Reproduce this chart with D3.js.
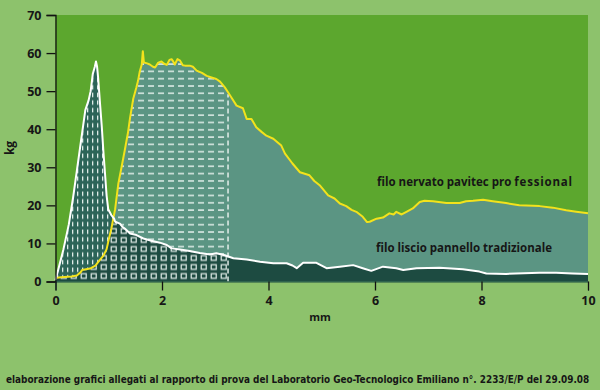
<!DOCTYPE html>
<html>
<head>
<meta charset="utf-8">
<script src="https://cdn.jsdelivr.net/npm/d3@7/dist/d3.min.js"></script>
<style>
  body { margin: 0; background: #8dc26c; }
  text { font-family: "Open Sans", "DejaVu Sans", sans-serif; font-weight: 700; fill: #161616; }
</style>
</head>
<body>
<div id="chart"></div>
<script>
// filo nervato pavitec professional (yellow)
const proMm = [0, 0.1, 0.3, 0.4, 0.47, 0.5, 0.65, 0.75, 0.83, 0.9, 0.96, 1.0, 1.05, 1.12, 1.18, 1.24, 1.3, 1.36, 1.4, 1.46, 1.52, 1.55, 1.58, 1.62, 1.64, 1.66, 1.72, 1.77, 1.83, 1.87, 1.93, 1.99, 2.04, 2.09, 2.14, 2.18, 2.21, 2.24, 2.29, 2.34, 2.39, 2.43, 2.52, 2.58, 2.65, 2.75, 2.84, 2.93, 3.02, 3.09, 3.18, 3.24, 3.3, 3.4, 3.52, 3.59, 3.68, 3.77, 3.87, 3.96, 4.09, 4.24, 4.31, 4.45, 4.59, 4.77, 4.86, 4.96, 5.12, 5.24, 5.34, 5.46, 5.56, 5.65, 5.77, 5.85, 5.9, 6.03, 6.15, 6.27, 6.35, 6.4, 6.5, 6.59, 6.71, 6.84, 6.93, 7.09, 7.34, 7.59, 7.71, 7.84, 8.03, 8.21, 8.46, 8.71, 9.09, 9.34, 9.59, 9.78, 10];
const proKg = [0.9, 1.1, 1.3, 1.6, 2.4, 3.0, 3.4, 4.2, 5.6, 6.8, 8.5, 11, 14, 19, 25.7, 30, 34.4, 39, 43, 48, 51, 52.7, 55, 57, 60.5, 57.5, 57.3, 57, 56.4, 56.2, 57.5, 57.8, 57.2, 56.9, 58.2, 58.4, 57.8, 57, 58.4, 58, 56.8, 56.7, 56.7, 56.4, 55.4, 54.8, 54, 53.6, 53.2, 52.5, 51, 49.7, 48.4, 46.2, 45.5, 42.7, 42.7, 40.5, 39.3, 38.3, 37.5, 35.7, 33.6, 31, 28.7, 27.9, 26.4, 25.3, 22.6, 21.8, 20.5, 19.8, 18.8, 18.3, 17, 15.6, 15.7, 16.5, 16.8, 17.9, 17.6, 18.3, 17.6, 18.3, 19.2, 20.9, 21.2, 21.1, 20.6, 20.6, 21.1, 21.2, 21.5, 21.1, 20.6, 20, 19.8, 19.4, 18.7, 18.3, 17.9];

// filo liscio pannello tradizionale (white)
const tradMm = [0, 0.05, 0.15, 0.25, 0.33, 0.4, 0.46, 0.52, 0.56, 0.62, 0.66, 0.7, 0.74, 0.76, 0.78, 0.8, 0.84, 0.87, 0.9, 0.93, 0.96, 0.99, 1.05, 1.1, 1.12, 1.21, 1.26, 1.3, 1.4, 1.52, 1.65, 1.8, 1.96, 2.09, 2.18, 2.34, 2.52, 2.71, 2.9, 3.02, 3.18, 3.34, 3.59, 3.84, 4.09, 4.34, 4.45, 4.53, 4.65, 4.9, 5.09, 5.34, 5.59, 5.77, 5.93, 6.15, 6.4, 6.53, 6.78, 7.21, 7.65, 7.96, 8.09, 8.46, 9.09, 9.4, 9.71, 10];
const tradKg = [0.4, 3, 8.5, 15, 22, 29, 35, 41, 45, 47.5, 50, 54.5, 56.5, 57.8, 56.5, 53.6, 46, 40.5, 34, 28.3, 22.5, 19, 17.4, 16.5, 15.7, 15.2, 14.3, 13.9, 12.6, 12.2, 11.3, 10.7, 10.2, 9.6, 8.7, 8.4, 8.0, 7.5, 7.1, 7.4, 6.9, 6.1, 5.8, 5.2, 4.8, 4.8, 4.2, 3.5, 4.9, 4.9, 3.5, 3.9, 4.3, 3.5, 2.8, 3.9, 3.5, 3.0, 3.5, 3.6, 3.2, 2.6, 2.1, 2.0, 2.3, 2.3, 2.1, 2.0];

const xTicks = [0, 2, 4, 6, 8, 10];
const yTicks = [0, 10, 20, 30, 40, 50, 60, 70];
const hatchEnd = 3.24;

const w = 600, h = 390;

const x = d3.scaleLinear().domain([0, 10]).range([55.5, 588]);
const y = d3.scaleLinear().domain([0, 70]).range([281.5, 15]);

const pro = proMm.map((d, i) => [d, proKg[i]]);
const trad = tradMm.map((d, i) => [d, tradKg[i]]);

const area = d3.area().x(d => x(d[0])).y0(y(0)).y1(d => y(d[1]));
const line = d3.line().x(d => x(d[0])).y(d => y(d[1]));

const svg = d3.select("#chart").append("svg")
  .attr("width", w).attr("height", h)
  .style("display", "block");

const defs = svg.append("defs");

defs.append("clipPath").attr("id", "proClip").append("path").attr("d", area(pro));
defs.append("clipPath").attr("id", "tradClip").append("path").attr("d", area(trad));
defs.append("clipPath").attr("id", "leftClip").append("rect")
  .attr("x", x(0)).attr("y", y(70))
  .attr("width", x(hatchEnd) - x(0)).attr("height", y(0) - y(70));

// horizontal dashes
const ph = defs.append("pattern").attr("id", "hdash").attr("patternUnits", "userSpaceOnUse")
  .attr("x", x(hatchEnd) - 2).attr("y", 2).attr("width", 10).attr("height", 7.3);
ph.append("rect").attr("x", 2).attr("y", 3).attr("width", 6).attr("height", 1.4).attr("fill", "#e8f2ee");

// vertical dashes
const pv = defs.append("pattern").attr("id", "vdash").attr("patternUnits", "userSpaceOnUse")
  .attr("x", 0).attr("y", 0).attr("width", 5).attr("height", 7.6);
pv.append("rect").attr("x", 2).attr("y", 1.5).attr("width", 1.3).attr("height", 4.5).attr("fill", "#dfece8");

// squares
const ps = defs.append("pattern").attr("id", "squares").attr("patternUnits", "userSpaceOnUse")
  .attr("x", x(hatchEnd) + 1).attr("y", y(0) - 1).attr("width", 10).attr("height", 9);
ps.append("rect").attr("x", 2.2).attr("y", 2.2).attr("width", 5).attr("height", 4.6)
  .attr("fill", "none").attr("stroke", "#e6f0ec").attr("stroke-width", 1.2);

// plot background
svg.append("rect")
  .attr("x", x(0)).attr("y", y(70))
  .attr("width", x(10) - x(0)).attr("height", y(0) - y(70))
  .attr("fill", "#5ca72e");

// professional area
svg.append("path").attr("d", area(pro)).attr("fill", "#5b9583");
svg.append("g").attr("clip-path", "url(#proClip)")
  .append("g").attr("clip-path", "url(#leftClip)")
  .append("rect").attr("x", x(0)).attr("y", y(70))
  .attr("width", x(10) - x(0)).attr("height", y(0) - y(70))
  .attr("fill", "url(#hdash)");

// traditional area
svg.append("path").attr("d", area(trad)).attr("fill", "#2c6458");
svg.append("g").attr("clip-path", "url(#tradClip)")
  .append("g").attr("clip-path", "url(#leftClip)")
  .append("rect").attr("x", x(0)).attr("y", y(70))
  .attr("width", x(10) - x(0)).attr("height", y(0) - y(70))
  .attr("fill", "url(#vdash)");

// overlap of both
const both = svg.append("g").attr("clip-path", "url(#tradClip)")
  .append("g").attr("clip-path", "url(#proClip)");
both.append("rect").attr("x", x(0)).attr("y", y(70))
  .attr("width", x(10) - x(0)).attr("height", y(0) - y(70))
  .attr("fill", "#1d4b41");
both.append("g").attr("clip-path", "url(#leftClip)")
  .append("rect").attr("x", x(0)).attr("y", y(70))
  .attr("width", x(10) - x(0)).attr("height", y(0) - y(70))
  .attr("fill", "url(#squares)");

// dashed edge of the hatching
const proAtEnd = proKg[proMm.indexOf(hatchEnd)];
svg.append("line")
  .attr("x1", x(hatchEnd)).attr("x2", x(hatchEnd))
  .attr("y1", y(0)).attr("y2", y(proAtEnd) + 2)
  .attr("stroke", "#eef5f2").attr("stroke-width", 1.4)
  .attr("stroke-dasharray", "5,3");

// curves
svg.append("path").attr("d", line(pro))
  .attr("fill", "none").attr("stroke", "#f3e21c").attr("stroke-width", 2).attr("stroke-linejoin", "round");
svg.append("path").attr("d", line(trad))
  .attr("fill", "none").attr("stroke", "#ffffff").attr("stroke-width", 2).attr("stroke-linejoin", "round");

// axes
const yAxis = d3.axisLeft(y).tickValues(yTicks).tickSize(9).tickPadding(5);
const xAxis = d3.axisBottom(x).tickValues(xTicks).tickSize(9).tickPadding(6);

const gy = svg.append("g").attr("transform", "translate(" + x(0) + ",0)").call(yAxis);
gy.select(".domain").attr("stroke", "#111").attr("stroke-width", 1.3);
gy.selectAll(".tick line").attr("stroke", "#111").attr("stroke-width", 1.3);
gy.selectAll(".tick text").style("font-size", "12.5px").attr("fill", "#161616");

const gx = svg.append("g").attr("transform", "translate(0," + y(0) + ")").call(xAxis);
gx.select(".domain").attr("stroke", "#1d4b41").attr("stroke-width", 1);
gx.selectAll(".tick line").attr("stroke", "#111").attr("stroke-width", 1.3);
gx.selectAll(".tick text").style("font-size", "12.5px").attr("fill", "#161616");

svg.append("text")
  .attr("transform", "translate(14,148) rotate(-90)")
  .attr("text-anchor", "middle")
  .style("font-size", "12px")
  .text("kg");

svg.append("text")
  .attr("x", 320).attr("y", 321)
  .attr("text-anchor", "middle")
  .style("font-size", "11px")
  .text("mm");

// labels
const lab1 = svg.append("text")
  .attr("x", 377).attr("y", 186)
  .style("font-size", "11.5px");
lab1.append("tspan").text("filo nervato pavitec pro");
lab1.append("tspan").attr("dx", 3).attr("letter-spacing", 0.8).text("fessional");

svg.append("text")
  .attr("x", 376).attr("y", 252)
  .style("font-size", "12px")
  .attr("textLength", 176).attr("lengthAdjust", "spacingAndGlyphs")
  .text("filo liscio pannello tradizionale");

// caption, squeezed horizontally to fit the width
const cap = svg.append("text")
  .style("font-family", "'Liberation Sans Narrow', 'DejaVu Sans Condensed', sans-serif")
  .style("font-size", "11px")
  .text("elaborazione grafici allegati al rapporto di prova del Laboratorio Geo-Tecnologico Emiliano n°. 2233/E/P del 29.09.08");
const capLen = cap.node().getComputedTextLength();
cap.attr("transform", "translate(6,383) scale(" + Math.min(1, 584 / capLen) + ",1)");
</script>
</body>
</html>
